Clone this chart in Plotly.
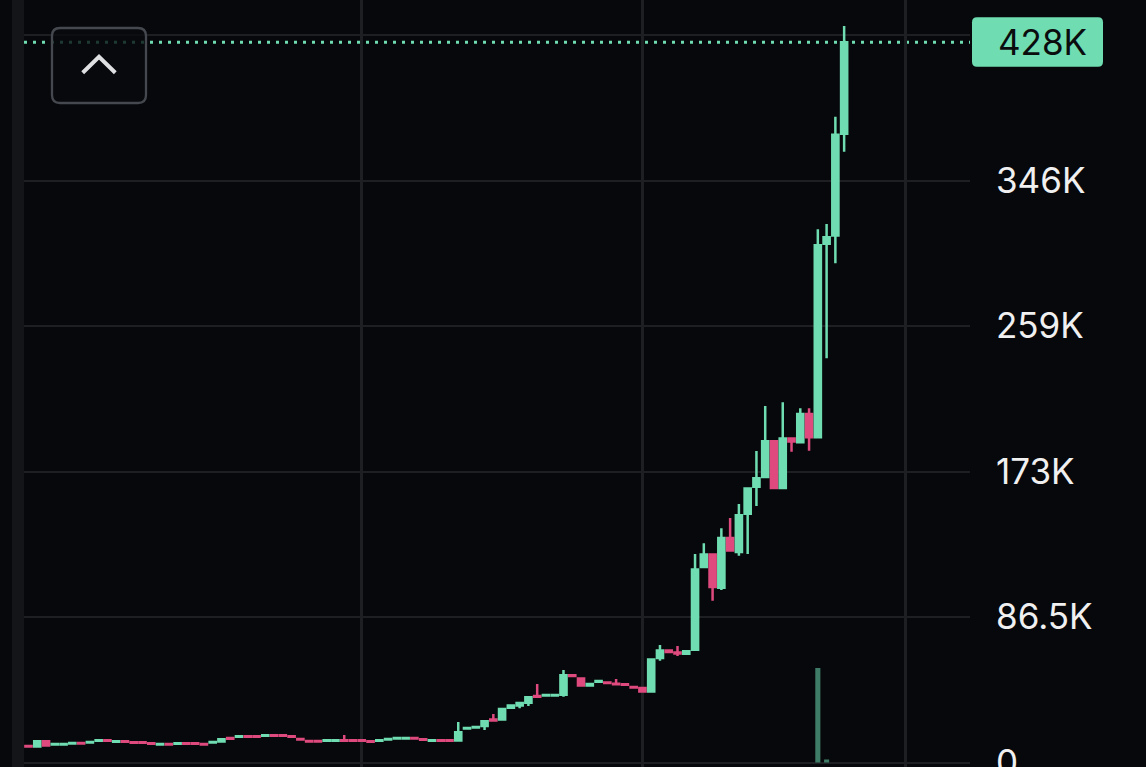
import plotly.graph_objects as go

# ---------------- data (prices in thousands) ----------------
candle_index = list(range(94))
open_k = [9.87, 9.54, 12.63, 10.73, 10.73, 11.23, 11.53, 11.92, 12.93, 13.23,
          12.33, 12.63, 12.04, 12.04, 11.45, 10.73, 11.03, 11.15, 11.45, 11.45,
          11.03, 11.92, 12.51, 14.60, 15.31, 15.61, 15.61, 15.90, 16.20, 16.20,
          15.61, 14.00, 12.81, 12.81, 12.93, 12.93, 13.23, 13.23, 13.23, 12.63,
          12.93, 13.70, 14.24, 14.24, 14.54, 13.82, 12.93, 13.23, 13.23, 13.11,
          20.15, 20.75, 21.67, 25.50, 25.59, 32.55, 33.92, 35.52, 39.50, 39.77,
          39.90, 40.28, 51.87, 49.91, 45.81, 48.05, 47.62, 46.82, 46.52, 44.83,
          44.32, 42.24, 62.10, 66.55, 65.35, 64.65, 67.03, 116.20, 123.63, 103.89,
          133.50, 125.11, 147.88, 163.93, 169.70, 190.99, 163.16, 192.59, 190.39, 207.21,
          193.36, 308.40, 313.33, 373.80]
high_k = [9.87, 12.63, 12.63, 11.03, 11.03, 11.53, 11.53, 12.22, 13.23, 13.23,
          12.63, 12.63, 12.04, 12.04, 11.45, 11.03, 11.03, 11.45, 11.45, 11.45,
          11.03, 12.22, 13.82, 14.60, 15.61, 15.61, 15.61, 16.20, 16.20, 16.20,
          15.61, 14.00, 12.81, 12.81, 13.23, 13.23, 16.35, 13.23, 13.23, 12.63,
          13.23, 14.00, 14.54, 14.54, 14.54, 13.82, 13.23, 13.23, 13.23, 24.08,
          20.45, 21.05, 24.52, 28.83, 31.84, 33.86, 35.40, 38.79, 46.67, 40.07,
          40.20, 54.99, 51.87, 49.91, 46.70, 48.40, 47.62, 49.64, 46.52, 44.83,
          44.32, 61.20, 69.85, 66.55, 69.26, 66.14, 123.96, 130.32, 123.63, 139.23,
          145.36, 153.68, 162.86, 185.19, 211.94, 190.99, 214.14, 192.59, 210.58, 210.58,
          316.99, 320.14, 383.93, 437.85]
low_k = [9.57, 9.54, 10.14, 10.73, 10.73, 11.23, 11.23, 11.92, 12.93, 12.93,
         12.33, 12.33, 11.74, 11.74, 11.15, 10.73, 10.73, 11.15, 11.15, 11.15,
         10.73, 11.92, 12.51, 14.12, 15.31, 15.31, 15.31, 15.90, 15.90, 15.90,
         15.31, 13.70, 12.51, 12.51, 12.93, 12.93, 12.93, 12.93, 12.93, 12.33,
         12.93, 13.70, 14.24, 14.24, 14.24, 13.52, 12.93, 12.93, 12.93, 13.11,
         20.15, 20.75, 19.32, 25.04, 25.59, 32.55, 32.22, 33.59, 39.16, 39.77,
         39.90, 39.12, 51.40, 45.81, 45.81, 48.05, 47.32, 46.52, 46.22, 44.53,
         42.24, 42.24, 60.52, 65.66, 63.31, 64.65, 67.03, 116.20, 96.19, 102.55,
         126.06, 122.94, 123.96, 152.49, 169.70, 163.16, 163.16, 184.78, 190.39, 185.37,
         193.36, 240.30, 296.78, 363.12]
close_k = [9.57, 12.63, 10.14, 11.03, 11.03, 11.53, 11.23, 12.22, 13.23, 12.93,
           12.63, 12.33, 11.74, 11.74, 11.15, 11.03, 10.73, 11.45, 11.15, 11.15,
           10.73, 12.22, 13.82, 14.12, 15.61, 15.31, 15.31, 16.20, 15.90, 15.90,
           15.31, 13.70, 12.51, 12.51, 13.23, 13.23, 12.93, 12.93, 12.93, 12.33,
           13.23, 14.00, 14.54, 14.54, 14.24, 13.52, 13.23, 12.93, 12.93, 17.98,
           20.45, 21.05, 24.52, 25.04, 31.84, 33.86, 35.40, 38.79, 39.16, 40.07,
           40.20, 51.87, 51.40, 45.81, 46.70, 48.40, 47.32, 46.52, 46.22, 44.53,
           42.24, 61.20, 66.55, 65.66, 64.85, 66.14, 114.71, 123.63, 104.31, 133.50,
           126.06, 146.99, 162.86, 168.99, 190.99, 163.16, 192.59, 190.87, 207.21, 193.36,
           307.51, 312.26, 373.20, 428.19]
volume = [0] * 90 + [3150, 100, 0, 0]

price_ticks = [0, 86500, 173000, 259500, 346000, 432500]
price_tick_text = ["0", "86.5K", "173K", "259K", "346K", ""]
x_grid_positions = [38, 70, 100]

# ---------------- style ----------------
BG = "#06080b"
GREEN = "#6fddb1"
RED = "#df4a7e"
GRID = "#1d1f23"
VOL = "#3e7c67"
FONT = "Inter, 'Liberation Sans', Arial, sans-serif"

K = 1000.0
o = [v * K for v in open_k]
h = [v * K for v in high_k]
l = [v * K for v in low_k]
c = [v * K for v in close_k]

W, H = 1146, 767
ML, MR, MT, MB = 24, 176, 0, 0
plot_h = H - MT - MB
units_per_px = 594.5
y_zero_px = 762.5
y_range = [-(plot_h - y_zero_px) * units_per_px, y_zero_px * units_per_px]
x_range = [-0.513, 107.35]
vol_k = units_per_px * 94.5 / max(volume)
y2_range = [y_range[0] / vol_k, y_range[1] / vol_k]

fig = go.Figure()
fig.add_trace(go.Bar(
    x=candle_index, y=volume, yaxis="y2", width=0.58,
    marker=dict(color=VOL, line=dict(width=0)), showlegend=False, hoverinfo="skip"))
fig.add_trace(go.Candlestick(
    x=candle_index, open=o, high=h, low=l, close=c,
    increasing=dict(line=dict(color=GREEN, width=2.5), fillcolor=GREEN),
    decreasing=dict(line=dict(color=RED, width=2.5), fillcolor=RED),
    whiskerwidth=0, showlegend=False))

last_close = c[-1]


def rounded_rect(x0, x1, y0, y1, r):
    # y0 is the top (larger), y1 the bottom (smaller), pixel offsets
    return (f"M {x0+r},{y0} L {x1-r},{y0} Q {x1},{y0} {x1},{y0-r} "
            f"L {x1},{y1+r} Q {x1},{y1} {x1-r},{y1} L {x0+r},{y1} "
            f"Q {x0},{y1} {x0},{y1+r} L {x0},{y0-r} Q {x0},{y0} {x0+r},{y0} Z")


shapes = []
shapes.append(dict(type="rect", xref="paper", yref="paper", xsizemode="pixel", xanchor=0,
                   x0=-12, x1=0, y0=0, y1=1, fillcolor="#131519", line=dict(width=0), layer="above"))
shapes.append(dict(type="line", xref="paper", yref="y", x0=0, x1=1, y0=last_close, y1=last_close,
                   line=dict(color=GREEN, width=3, dash="3px,6px"), layer="between"))
shapes.append(dict(type="path", xref="paper", yref="paper", xsizemode="pixel", ysizemode="pixel",
                   xanchor=0, yanchor=1, path=rounded_rect(28, 122, -28, -103, 8),
                   fillcolor="rgba(8,10,13,0.78)", line=dict(color="#45484f", width=2.3), layer="above"))
shapes.append(dict(type="path", xref="paper", yref="paper", xsizemode="pixel", ysizemode="pixel",
                   xanchor=0, yanchor=1, path="M 58.7,-72.7 L 75,-56.7 L 91.3,-72.7",
                   line=dict(color="#dfe0e2", width=4), layer="above"))
# last-price label background (rounded)
shapes.append(dict(type="path", xref="paper", yref="y", xsizemode="pixel", ysizemode="pixel",
                   xanchor=1, yanchor=last_close, path=rounded_rect(2, 133, 25, -24.5, 5),
                   fillcolor=GREEN, line=dict(width=0), layer="above"))

fig.update_layout(
    width=W, height=H,
    margin=dict(l=ML, r=MR, t=MT, b=MB, pad=0),
    paper_bgcolor=BG, plot_bgcolor=BG,
    showlegend=False,
    boxgap=0.0,
    shapes=shapes,
    xaxis=dict(range=x_range, tickvals=x_grid_positions, showticklabels=False, ticks="",
               showgrid=True, gridcolor=GRID, gridwidth=2.5, zeroline=False,
               showline=False, rangeslider=dict(visible=False), automargin=False, fixedrange=True),
    yaxis=dict(range=y_range, side="right", tickvals=price_ticks, ticktext=price_tick_text,
               showgrid=True, gridcolor=GRID, gridwidth=2, zeroline=False, showline=False,
               ticks="", ticklabelstandoff=25, automargin=False, ticklabeloverflow="allow",
               tickfont=dict(family=FONT, size=35, color="#f0f0f1")),
    yaxis2=dict(range=y2_range, overlaying="y", visible=False, showgrid=False, zeroline=False),
    annotations=[dict(
        x=1, xref="paper", xshift=27, xanchor="left", y=last_close, yref="y", yanchor="middle",
        text=f"{last_close / 1000:.0f}K", showarrow=False, align="left",
        borderpad=0, font=dict(family=FONT, size=35, color="#0a0c0e"))],
)

fig.write_html("out.html", config={"displayModeBar": False},
               post_script="document.body.style.margin='0';")
